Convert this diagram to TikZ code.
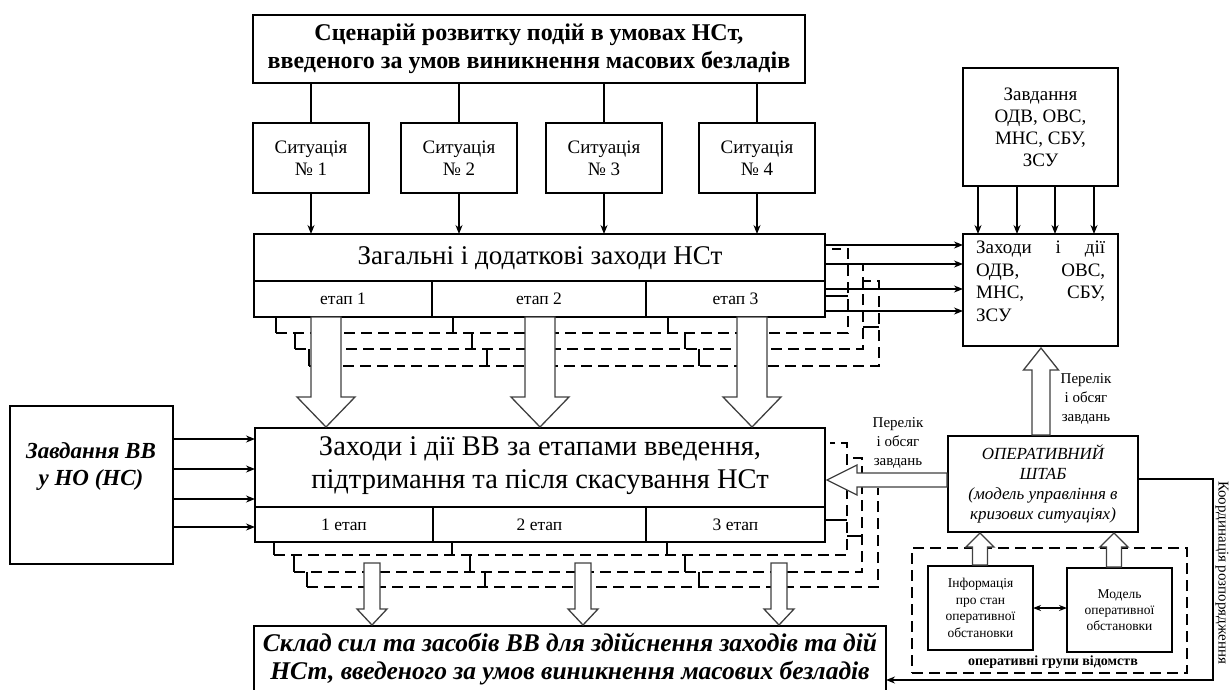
\documentclass[tikz,border=0pt]{standalone}
\usepackage{fontspec}
\setmainfont{Liberation Serif}
\usetikzlibrary{arrows.meta,calc}
\tikzset{
 pbox/.style={draw, line width=1.3pt, inner sep=0pt, outer sep=0pt, anchor=north west, align=center},
 arr/.style={-{Stealth[length=9pt,width=7pt]}, line width=1.3pt},
 dsh/.style={line width=1.3pt, dash pattern=on 11pt off 6pt},
 stub/.style={line width=1.3pt},
 harrow/.style={draw=black!75, line width=1.3pt, fill=white, line join=miter},
 txt/.style={inner sep=0pt, align=center},
}
\newcommand{\harrdown}[6]{\draw[harrow] (#1-#4,#2) -- (#1-#4,#3-#6) -- (#1-#5,#3-#6) -- (#1,#3) -- (#1+#5,#3-#6) -- (#1+#4,#3-#6) -- (#1+#4,#2) -- cycle;}
\newcommand{\harrup}[6]{\draw[harrow] (#1-#4,#2) -- (#1-#4,#3+#6) -- (#1-#5,#3+#6) -- (#1,#3) -- (#1+#5,#3+#6) -- (#1+#4,#3+#6) -- (#1+#4,#2) -- cycle;}
\newcommand{\harrleft}[6]{\draw[harrow] (#2,#1-#4) -- (#3+#6,#1-#4) -- (#3+#6,#1-#5) -- (#3,#1) -- (#3+#6,#1+#5) -- (#3+#6,#1+#4) -- (#2,#1+#4) -- cycle;}
\begin{document}
\begin{tikzpicture}[x=1pt,y=-1pt]
\useasboundingbox (0,0) rectangle (1232,689);

% ---------- top scenario box and situations
\node[pbox, line width=2.6pt, minimum width=552pt, minimum height=68pt,
      font=\bfseries\fontsize{24}{28}\selectfont] (top) at (253,15)
  {Сценарій розвитку подій в умовах НСт,\\введеного за умов виникнення масових безладів};
\foreach \i/\xa in {1/253, 2/401, 3/546, 4/699} {
  \node[pbox, minimum width=116pt, minimum height=70pt, font=\fontsize{19}{22}\selectfont] (s\i) at (\xa,123) {Ситуація\\№ \i};
}

% ---------- main box 1
\node[pbox, minimum width=571pt, minimum height=83pt] (m1) at (254,234) {};
\node[pbox, minimum width=178pt, minimum height=36pt, font=\fontsize{17.5}{19}\selectfont] (e11) at (254,281) {етап 1};
\node[pbox, minimum width=214pt, minimum height=36pt, font=\fontsize{17.5}{19}\selectfont] (e12) at (432,281) {етап 2};
\node[pbox, minimum width=179pt, minimum height=36pt, font=\fontsize{17.5}{19}\selectfont] (e13) at (646,281) {етап 3};
\node[txt, font=\fontsize{27}{30}\selectfont] (m1t) at (540,258) {Загальні і додаткові заходи НСт};

\foreach \i in {1,2,3,4} {
  \draw[stub] (s\i.north |- top.south) -- (s\i.north);
  \draw[arr] (s\i.south) -- (s\i.south |- m1.north);
}

% ---------- right upper boxes
\node[pbox, minimum width=155pt, minimum height=118pt, font=\fontsize{19}{22}\selectfont] (zav) at (963,68)
  {Завдання\\ОДВ, ОВС,\\МНС, СБУ,\\ЗСУ};
\node[pbox, minimum width=155pt, minimum height=112pt] (zah) at (963,234) {};
\node[anchor=north west, inner sep=0pt, align=left, font=\fontsize{19}{22.5}\selectfont] (zaht) at (976,241)
  {\makebox[129pt][s]{Заходи і дії}\\\makebox[129pt][s]{ОДВ, ОВС,}\\\makebox[129pt][s]{МНС, СБУ,}\\ЗСУ};
\foreach \dx in {15,54,92,131} \draw[arr] ([xshift=\dx pt]zav.south west) coordinate (q) -- (q |- zah.north);
\foreach \dy in {11,30,55,77} \draw[arr] ([yshift=-\dy pt]m1.north east) coordinate (q) -- (q -| zah.west);

% ---------- dashed feedback lines under main box 1
\draw[dsh] (276,333) -- (848,333) -- (848,249) -- (832,249);
\draw[dsh] (295,349) -- (863,349) -- (863,264);
\draw[dsh] (309,366) -- (879,366) -- (879,281) -- (863,281);
\draw[stub] (276,317) -- (276,333) (295,333) -- (295,349) (309,349) -- (309,366);
\draw[stub] (453,317) -- (453,333) (472,333) -- (472,349) (487,349) -- (487,366);
\draw[stub] (668,317) -- (668,333) (685,333) -- (685,349) (699,349) -- (699,366);
\draw[stub] (825,296) -- (848,296) (863,327) -- (879,327);

% ---------- main box 2
\node[pbox, minimum width=570pt, minimum height=114pt] (m2) at (255,428) {};
\node[pbox, minimum width=178pt, minimum height=35pt, font=\fontsize{17.5}{19}\selectfont] (e21) at (255,507) {1 етап};
\node[pbox, minimum width=213pt, minimum height=35pt, font=\fontsize{17.5}{19}\selectfont] (e22) at (433,507) {2 етап};
\node[pbox, minimum width=179pt, minimum height=35pt, font=\fontsize{17.5}{19}\selectfont] (e23) at (646,507) {3 етап};
\node[txt, font=\fontsize{28.5}{33}\selectfont] (m2t) at (540,466) {Заходи і дії ВВ за етапами введення,\\підтримання та після скасування НСт};

% ---------- left box
\node[pbox, minimum width=163pt, minimum height=158pt] (zvv) at (10,406) {};
\node[txt, font=\bfseries\itshape\fontsize{23}{27}\selectfont] (zvvt) at (91,466) {Завдання ВВ\\у НО (НС)};
\foreach \dy in {33,63,93,121} \draw[arr] ([yshift=-\dy pt]zvv.north east) coordinate (q) -- (q -| m2.west);

% ---------- dashed feedback lines under main box 2
\draw[dsh] (274,555) -- (847,555) -- (847,443) -- (830,443);
\draw[dsh] (294,572) -- (862,572) -- (862,458) -- (847,458);
\draw[dsh] (307,587) -- (878,587) -- (878,488);
\draw[stub] (274,542) -- (274,555) (294,555) -- (294,572) (307,572) -- (307,587);
\draw[stub] (452,542) -- (452,555) (470,555) -- (470,572) (485,572) -- (485,587);
\draw[stub] (667,542) -- (667,555) (685,555) -- (685,572) (699,572) -- (699,587);
\draw[stub] (825,520) -- (847,520) (847,536) -- (862,536);

% ---------- operational HQ and groups
\node[pbox, minimum width=190pt, minimum height=96pt, font=\itshape\fontsize{17}{20}\selectfont] (sht) at (948,436)
  {ОПЕРАТИВНИЙ\\ШТАБ\\(модель управління в\\кризових ситуаціях)};
\node[pbox, dsh, minimum width=275pt, minimum height=125pt] (grp) at (912,548) {};
\node[txt, font=\bfseries\fontsize{14}{16}\selectfont] (grpt) at (1053,662) {оперативні групи відомств};
\node[pbox, minimum width=105pt, minimum height=84pt, font=\fontsize{13.5}{16.5}\selectfont] (inf) at (928,566)
  {Інформація\\про стан\\оперативної\\обстановки};
\node[pbox, minimum width=105pt, minimum height=84pt, font=\fontsize{13.5}{16}\selectfont] (mod) at (1067,568)
  {Модель\\оперативної\\обстановки};
\draw[{Stealth[length=8pt,width=6pt]}-{Stealth[length=8pt,width=6pt]}, line width=1.3pt] (inf.east) -- (inf.east -| mod.west);

% ---------- bottom box
\node[pbox, minimum width=632pt, minimum height=80pt] (bot) at (254,626) {};
\node[txt, font=\bfseries\itshape\fontsize{25.5}{28}\selectfont] (bott) at (570,659)
  {Склад сил та засобів ВВ для здійснення заходів та дій\\НСт, введеного за умов виникнення масових безладів};

% ---------- coordination line
\coordinate (cr) at (1213,680);
\draw[arr] ([yshift=-43pt]sht.north east) -| (cr) -- (cr -| bot.east);
\node[rotate=-90, anchor=west, inner sep=0pt, font=\fontsize{15}{17}\selectfont] (coord) at (1222,481) {Координація розпорядження};

% ---------- hollow arrows
\harrdown{326}{317}{427}{15}{29}{30}
\harrdown{540}{317}{427}{15}{29}{30}
\harrdown{752}{317}{427}{15}{29}{30}
\harrdown{372}{563}{625}{8}{15}{16}
\harrdown{583}{563}{625}{8}{15}{16}
\harrdown{779}{563}{625}{8}{15}{16}
\harrleft{480}{947}{827}{7}{15}{30}
\harrup{1041}{435}{348}{9}{17.5}{22}
\harrup{980}{565}{533}{7.5}{14}{14}
\harrup{1114}{567}{533}{7.5}{14}{14}

% ---------- labels
\node[txt, font=\fontsize{15}{19}\selectfont] (lab1) at (898,443) {Перелік\\і обсяг\\завдань};
\node[txt, font=\fontsize{15}{19}\selectfont] (lab2) at (1086,399) {Перелік\\і обсяг\\завдань};
\end{tikzpicture}
\end{document}
